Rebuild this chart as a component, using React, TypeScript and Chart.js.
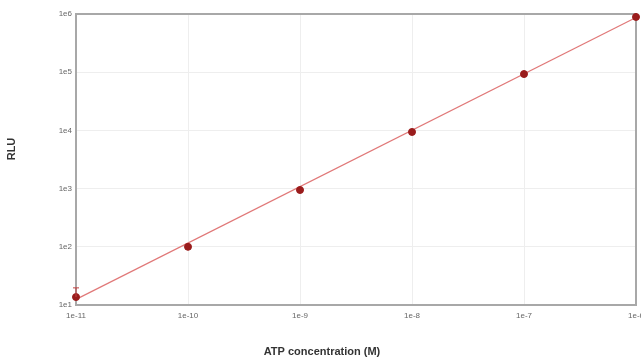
import React, { useEffect, useRef } from "react";
import { Chart, registerables } from "chart.js";

Chart.register(...registerables);

const concentrations = [1e-11, 1e-10, 1e-9, 1e-8, 1e-7, 1e-6];
const rlu = [13.7, 100, 946, 9400, 93000, 890000];
const errUp = [6, 0, 0, 0, 0, 0];
const errDown = [0, 0, 0, 0, 0, 0];
const fitX = [1e-11, 1e-6];
const fitY = [12.5, 870000];
const xTickValues = [1e-11, 1e-10, 1e-9, 1e-8, 1e-7, 1e-6];
const xTickLabels = ["1e-11", "1e-10", "1e-9", "1e-8", "1e-7", "1e-6"];
const yTickValues = [1e1, 1e2, 1e3, 1e4, 1e5, 1e6];
const yTickLabels = ["1e1", "1e2", "1e3", "1e4", "1e5", "1e6"];
const xTitle = "ATP concentration (M)";
const yTitle = "RLU";

const FONT = "'Liberation Sans', Arial, sans-serif";

const framePlugin = {
  id: "frameAndTitles",
  beforeDatasetsDraw(chart: any) {
    const { ctx, chartArea } = chart;
    ctx.save();
    ctx.strokeStyle = "#a8a8a8";
    ctx.lineWidth = 2;
    ctx.strokeRect(
      chartArea.left,
      chartArea.top,
      chartArea.right - chartArea.left,
      chartArea.bottom - chartArea.top
    );
    ctx.restore();
  },
  afterDatasetsDraw(chart: any) {
    const { ctx, scales } = chart;
    const meta = chart.getDatasetMeta(1);
    ctx.save();
    ctx.strokeStyle = "#c04040";
    ctx.lineWidth = 1;
    meta.data.forEach((pt: any, i: number) => {
      if (!errUp[i] && !errDown[i]) return;
      const x = pt.x;
      const yTop = scales.y.getPixelForValue(rlu[i] + errUp[i]);
      const yBot = scales.y.getPixelForValue(Math.max(rlu[i] - errDown[i], 1e-3));
      ctx.beginPath();
      ctx.moveTo(x, yTop);
      ctx.lineTo(x, yBot);
      ctx.moveTo(x - 3, yTop);
      ctx.lineTo(x + 3, yTop);
      ctx.stroke();
    });
    ctx.restore();
  },
  afterDraw(chart: any) {
    const { ctx } = chart;
    ctx.save();
    ctx.fillStyle = "#333";
    ctx.font = `bold 11px ${FONT}`;
    ctx.textAlign = "center";
    ctx.textBaseline = "middle";
    ctx.fillText(xTitle, 322, 352);
    ctx.translate(12, 149);
    ctx.rotate(-Math.PI / 2);
    ctx.fillText(yTitle, 0, 0);
    ctx.restore();
  },
};

export default function App() {
  const ref = useRef<HTMLCanvasElement | null>(null);

  useEffect(() => {
    if (!ref.current) return;
    const chart = new Chart(ref.current, {
      type: "scatter",
      data: {
        datasets: [
          {
            type: "line",
            label: "fit",
            data: fitX.map((x, i) => ({ x, y: fitY[i] })),
            borderColor: "#e07878",
            borderWidth: 1.2,
            pointRadius: 0,
            fill: false,
            clip: false,
            order: 2,
          },
          {
            label: "RLU",
            data: concentrations.map((x, i) => ({ x, y: rlu[i] })),
            backgroundColor: "#9a1c1c",
            borderColor: "#9a1c1c",
            pointRadius: 3.5,
            clip: false,
            order: 1,
          },
        ],
      },
      options: {
        animation: false,
        responsive: false,
        layout: { padding: { top: 14, right: 4, left: 0, bottom: 0 } },
        plugins: { legend: { display: false }, tooltip: { enabled: false } },
        scales: {
          x: {
            type: "logarithmic",
            min: 1e-11,
            max: 1e-6,
            border: { display: false },
            grid: { color: "#eeeeee", drawTicks: false },
            afterBuildTicks: (s: any) => {
              s.ticks = xTickValues.map((v) => ({ value: v }));
            },
            afterFit: (s: any) => {
              s.height = 58;
              s.paddingLeft = 0;
              s.paddingRight = 0;
            },
            ticks: {
              padding: 6,
              maxRotation: 0,
              color: "#666",
              font: { size: 8, family: FONT },
              callback: (v: any) => {
                const i = xTickValues.findIndex((t) => Math.abs(Math.log10(t) - Math.log10(v)) < 1e-6);
                return i >= 0 ? xTickLabels[i] : "";
              },
            },
          },
          y: {
            type: "logarithmic",
            min: 1e1,
            max: 1e6,
            border: { display: false },
            grid: { color: "#eeeeee", drawTicks: false },
            afterBuildTicks: (s: any) => {
              s.ticks = yTickValues.map((v) => ({ value: v }));
            },
            afterFit: (s: any) => {
              s.width = 76;
            },
            ticks: {
              padding: 4,
              color: "#666",
              font: { size: 8, family: FONT },
              callback: (v: any) => {
                const i = yTickValues.findIndex((t) => Math.abs(Math.log10(t) - Math.log10(v)) < 1e-6);
                return i >= 0 ? yTickLabels[i] : "";
              },
            },
          },
        },
      },
      plugins: [framePlugin],
    });
    return () => chart.destroy();
  }, []);

  return (
    <div style={{ position: "absolute", left: 0, top: 0, width: 641, height: 363, background: "#fff" }}>
      <canvas ref={ref} width={641} height={363} style={{ width: 641, height: 363 }} />
    </div>
  );
}
